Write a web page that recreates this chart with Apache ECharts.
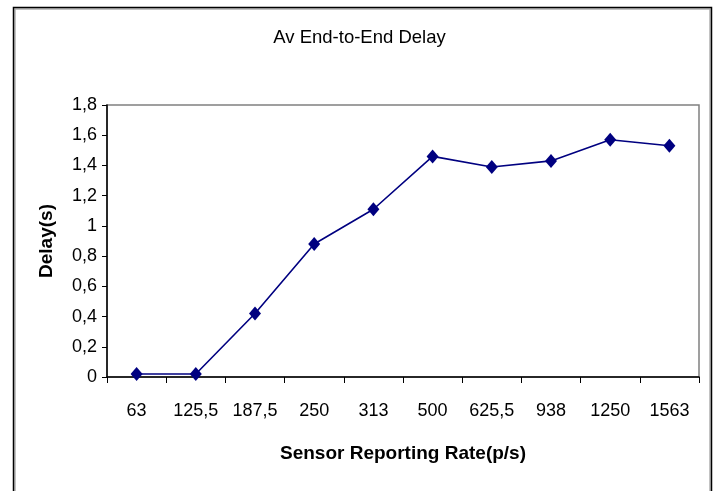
<!DOCTYPE html>
<html>
<head>
<meta charset="utf-8">
<style>
  html, body { margin: 0; padding: 0; background: #fff; }
  #chart { width: 719px; height: 491px; }
</style>
<script src="https://cdn.jsdelivr.net/npm/echarts@6/dist/echarts.min.js"></script>
</head>
<body>
<div id="chart"></div>
<script>
// Sensor reporting rates (p/s) on the category axis
const rates = ['63', '125,5', '187,5', '250', '313', '500', '625,5', '938', '1250', '1563'];
// Average end-to-end delay in seconds
const delays = [0.02, 0.02, 0.42, 0.88, 1.11, 1.46, 1.39, 1.43, 1.57, 1.53];
// Delay axis range
const yMin = 0, yMax = 1.8, yStep = 0.2;

const FONT = "'Liberation Sans Narrow', 'Liberation Sans', Arial, sans-serif";
const chart = echarts.init(document.getElementById('chart'), null, { renderer: 'canvas' });

chart.setOption({
  backgroundColor: '#ffffff',
  animation: false,
  title: {
    text: 'Av End-to-End Delay',
    left: 'center',
    top: 23,
    textStyle: { fontFamily: FONT, fontSize: 18.5, fontWeight: 'normal', color: '#000' }
  },
  grid: {
    left: 107, right: 20, top: 105, bottom: 114,
    show: true, borderColor: '#808080', borderWidth: 1.5, backgroundColor: '#fff'
  },
  graphic: [
    { type: 'rect', shape: { x: 15, y: 9, width: 695, height: 500 },
      style: { fill: 'none', stroke: '#b0b0b0', lineWidth: 1.5 }, z: 0 },
    { type: 'rect', shape: { x: 13.5, y: 7.5, width: 698, height: 500 },
      style: { fill: 'none', stroke: '#000', lineWidth: 1.5 }, z: 0 }
  ],
  xAxis: {
    type: 'category',
    data: rates,
    boundaryGap: true,
    name: 'Sensor Reporting Rate(p/s)',
    nameLocation: 'middle',
    nameGap: 67,
    nameTextStyle: { fontFamily: FONT, fontSize: 19, fontWeight: 'bold', color: '#000' },
    axisLine: { lineStyle: { color: '#000', width: 1.5 } },
    axisTick: { show: true, alignWithLabel: false, length: 6, inside: false, lineStyle: { color: '#000' } },
    axisLabel: { fontFamily: FONT, fontSize: 18, color: '#000', margin: 25, interval: 0 },
    splitLine: { show: false }
  },
  yAxis: {
    type: 'value',
    min: yMin, max: yMax, interval: yStep,
    name: 'Delay(s)',
    nameLocation: 'middle',
    nameGap: 51,
    nameRotate: 90,
    nameTextStyle: { fontFamily: FONT, fontSize: 19, fontWeight: 'bold', color: '#000' },
    axisLine: { show: true, lineStyle: { color: '#000', width: 1.5 } },
    axisTick: { show: true, length: 5, lineStyle: { color: '#000' } },
    axisLabel: {
      fontFamily: FONT, fontSize: 18, color: '#000', margin: 10,
      formatter: v => String(Math.round(v * 10) / 10).replace('.', ',')
    },
    splitLine: { show: false }
  },
  series: [{
    type: 'line',
    data: delays,
    symbol: 'diamond',
    symbolSize: [12, 14],
    lineStyle: { color: '#000080', width: 1.6 },
    itemStyle: { color: '#000080' },
    z: 3
  }]
});
</script>
</body>
</html>
